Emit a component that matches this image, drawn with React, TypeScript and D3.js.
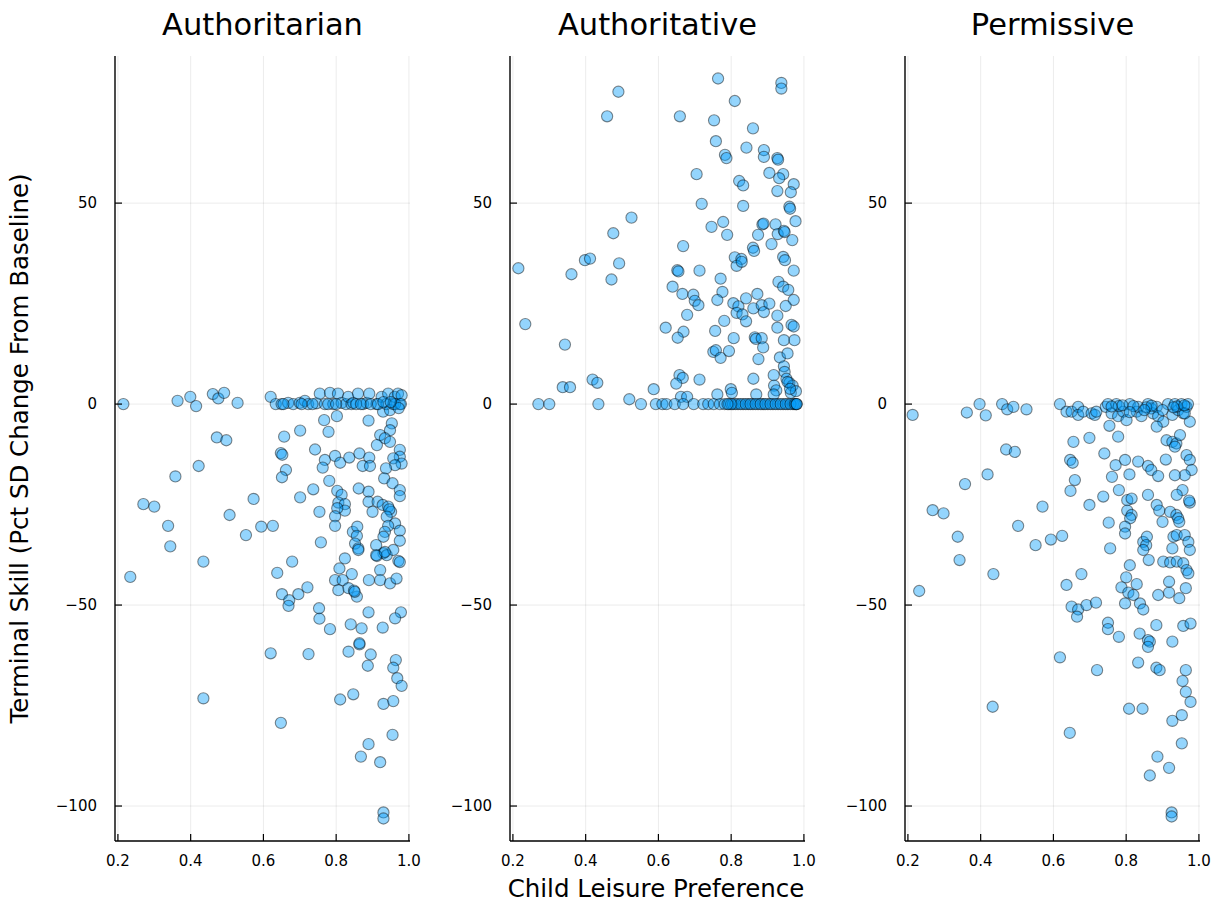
import React from "react";
import * as d3 from "d3";

// [child leisure preference, terminal skill]
const authoritarian: [number, number][] = [
  [0.215, 0], [0.364, 0.8], [0.399, 1.8], [0.415, -0.5], [0.461, 2.5], [0.476, 1.4], [0.492, 2.8], [0.529, 0.3], [0.62, 1.8],
  [0.634, 0], [0.65, 0], [0.668, 0.3], [0.682, 0], [0.7, 0.3], [0.714, 0.8], [0.723, 0], [0.746, 0.2], [0.755, 2.6], [0.769, 0],
  [0.783, 2.8], [0.792, 0], [0.805, 2.6], [0.815, 0.3], [0.827, 0], [0.833, 1.8], [0.842, 0], [0.847, 0.3], [0.86, 2.6], [0.874, 0],
  [0.884, 0.3], [0.891, 2.6], [0.911, 0], [0.925, 1.8], [0.929, -1.9], [0.938, 0], [0.943, 2.6], [0.948, -1.5], [0.957, 0],
  [0.961, 1.8], [0.97, 2.6], [0.975, 0], [0.98, 2.2], [0.655, 0], [0.705, 0], [0.735, 0], [0.778, 0], [0.8, 0], [0.855, 0],
  [0.868, 0], [0.895, 0], [0.915, 0], [0.962, 0], [0.978, 0], [0.972, -1], [0.93, 0.5], [0.95, 0.5],
  [0.472, -8.3], [0.498, -9], [0.422, -15.4], [0.358, -18], [0.27, -24.9], [0.3, -25.5], [0.573, -23.6], [0.507, -27.6],
  [0.338, -30.3], [0.552, -32.6], [0.594, -30.5], [0.626, -30.3], [0.344, -35.4], [0.435, -39.2], [0.234, -43], [0.638, -42],
  [0.679, -39.2], [0.651, -47.3], [0.671, -48.8], [0.669, -50.2], [0.696, -47.3], [0.721, -45.6], [0.753, -50.8],
  [0.657, -8.1], [0.701, -6.6], [0.648, -12.2], [0.652, -12.6], [0.662, -16.4], [0.651, -18.2], [0.742, -11.3], [0.767, -4],
  [0.779, -6.9], [0.802, -3], [0.889, -4.1], [0.769, -13.9], [0.763, -15.8], [0.797, -12.9], [0.811, -14.6], [0.836, -13.3],
  [0.864, -12.3], [0.891, -13.3], [0.873, -15.4], [0.893, -15.4], [0.781, -19.1], [0.737, -21.2], [0.701, -23.2], [0.803, -21.6],
  [0.815, -22.6], [0.862, -21], [0.889, -21.8], [0.806, -24.5], [0.824, -24.9], [0.824, -26.5], [0.803, -25.9], [0.889, -24.3],
  [0.9, -26.8], [0.754, -26.8], [0.797, -27.9], [0.797, -30.3], [0.846, -31.8], [0.858, -30.5], [0.857, -32.8], [0.852, -34.7],
  [0.861, -35.9], [0.758, -34.4], [0.824, -38.4], [0.809, -40.9], [0.843, -42.3], [0.797, -43.8], [0.818, -43.8], [0.806, -46.3],
  [0.834, -45.8], [0.857, -47.9], [0.849, -46.4], [0.89, -43.8], [0.921, -41.3], [0.921, -43.8], [0.948, -44.6], [0.966, -43.4],
  [0.889, -51.8], [0.978, -51.8], [0.754, -53.4],
  [0.953, -4.8], [0.948, -6.5], [0.921, -7.7], [0.934, -8.5], [0.948, -9.4], [0.912, -10.2], [0.975, -11.4], [0.975, -13.1],
  [0.957, -13.5], [0.98, -14.8], [0.962, -15.2], [0.937, -16], [0.932, -18.5], [0.955, -19.7], [0.975, -21.4], [0.975, -22.9],
  [0.914, -24.3], [0.928, -25.1], [0.943, -25.5], [0.951, -26.8], [0.946, -26.2], [0.939, -28], [0.962, -29.7], [0.943, -30.3],
  [0.975, -31.5], [0.975, -34], [0.934, -31.8], [0.93, -33], [0.91, -35.1], [0.93, -37.1], [0.912, -37.8], [0.939, -37.6],
  [0.957, -36.3], [0.971, -39], [0.975, -39.3], [0.861, -36.3], [0.91, -37.6], [0.934, -36.8],
  [0.783, -56], [0.84, -54.8], [0.87, -55.8], [0.928, -55.6], [0.962, -53.3], [0.62, -62], [0.724, -62.2], [0.834, -61.6],
  [0.864, -59.8], [0.864, -59.5], [0.895, -62.3], [0.887, -65.1], [0.964, -63.7], [0.957, -65.6], [0.968, -68.2], [0.98, -70.1],
  [0.435, -73.2], [0.811, -73.5], [0.847, -72.2], [0.93, -74.6], [0.957, -73.9], [0.648, -79.3], [0.955, -82.3], [0.889, -84.6],
  [0.868, -87.7], [0.921, -89.1], [0.93, -101.6], [0.93, -103.1], [0.851, -46.7],
];

const authoritative: [number, number][] = [
  [0.49, 77.7], [0.459, 71.6], [0.659, 71.6], [0.764, 81], [0.81, 75.4], [0.938, 79.9], [0.938, 78.5], [0.753, 70.6],
  [0.86, 68.6], [0.758, 65.4], [0.842, 63.8], [0.89, 63.2], [0.89, 61.5], [0.783, 62], [0.787, 61.2], [0.927, 61.2],
  [0.929, 60.8], [0.905, 57.5], [0.943, 57.2], [0.932, 56.2], [0.972, 54.7], [0.705, 57.2], [0.822, 55.5], [0.833, 54.4],
  [0.927, 53], [0.964, 52.7], [0.719, 49.8], [0.833, 49.3], [0.96, 49.1], [0.962, 48.6], [0.526, 46.4], [0.476, 42.5],
  [0.668, 39.3], [0.746, 44.1], [0.778, 45.3], [0.789, 42.1], [0.874, 42.1], [0.886, 44.7], [0.889, 44.9], [0.922, 44.7],
  [0.928, 42.3], [0.945, 43.1], [0.947, 42.8], [0.977, 45.5], [0.968, 40.8], [0.911, 39.8], [0.86, 38.9], [0.863, 38.1],
  [0.81, 36.5], [0.828, 36.1], [0.943, 36.6], [0.398, 35.8], [0.412, 36.2], [0.492, 35],
  [0.215, 33.8], [0.234, 19.9], [0.361, 32.3], [0.471, 31], [0.343, 14.8], [0.337, 4.2], [0.357, 4.2], [0.419, 6.1],
  [0.432, 5.3], [0.587, 3.7], [0.52, 1.2],
  [0.652, 33.3], [0.655, 33], [0.713, 33.2], [0.639, 29.2], [0.666, 27.4], [0.696, 27.2], [0.7, 25.7], [0.71, 24.6],
  [0.771, 31.2], [0.776, 27.9], [0.762, 25.9], [0.679, 22.2], [0.62, 19], [0.669, 18], [0.653, 16.5], [0.781, 20.7],
  [0.756, 18.2], [0.751, 13], [0.758, 13.4], [0.771, 11.5], [0.794, 13.2], [0.807, 16.4], [0.815, 34.4], [0.829, 35.4],
  [0.948, 35.8], [0.972, 33.2], [0.93, 30.4], [0.943, 29.2], [0.957, 28.4], [0.972, 25.9], [0.806, 25.1], [0.82, 24.3],
  [0.841, 26.3], [0.872, 27.4], [0.815, 22.7], [0.831, 22.3], [0.841, 20.6], [0.861, 23.8], [0.884, 24.6], [0.89, 22.9],
  [0.905, 25], [0.95, 24.4], [0.927, 22], [0.966, 19.7], [0.972, 19.3], [0.927, 19], [0.865, 16.6], [0.868, 16.2],
  [0.884, 16.4], [0.888, 14.1], [0.875, 11.2], [0.945, 15.9], [0.974, 15.9], [0.934, 11.6], [0.955, 12.6], [0.945, 9.4],
  [0.947, 8], [0.917, 7.2], [0.861, 6.3], [0.952, 6.3], [0.96, 5.3], [0.969, 4.6], [0.964, 2.8], [0.978, 3.2], [0.918, 4.6],
  [0.924, 3.4], [0.799, 3.7], [0.713, 6.1], [0.658, 7.2], [0.667, 6.5], [0.649, 5.1], [0.662, 1.8], [0.679, 1.8],
  [0.762, 2.4], [0.802, 2.8], [0.869, 2.4], [0.917, 2.4], [0.955, 5.5], [0.962, 3.8],
  [0.27, 0], [0.3, 0], [0.435, 0], [0.552, 0], [0.593, 0], [0.611, 0], [0.622, 0], [0.645, 0], [0.668, 0], [0.697, 0],
  [0.723, 0], [0.737, 0], [0.752, 0], [0.769, 0], [0.782, 0], [0.794, 0], [0.805, 0], [0.819, 0], [0.833, 0], [0.847, 0],
  [0.86, 0], [0.874, 0], [0.888, 0], [0.901, 0], [0.915, 0], [0.929, 0], [0.943, 0], [0.956, 0], [0.97, 0], [0.978, 0],
  [0.812, 0], [0.826, 0], [0.84, 0], [0.853, 0], [0.867, 0], [0.881, 0], [0.894, 0], [0.908, 0], [0.922, 0], [0.936, 0],
  [0.95, 0], [0.963, 0], [0.975, 0], [0.98, 0], [0.98, 0], [0.8, 0], [0.79, 0],
];

const permissive: [number, number][] = [
  [0.213, -2.7], [0.362, -2.1], [0.397, 0], [0.414, -2.8], [0.459, 0], [0.473, -1.3], [0.49, -0.7], [0.526, -1.3], [0.618, 0],
  [0.636, -1.9], [0.65, -1.9], [0.668, -0.7], [0.668, -2.7], [0.682, -1.9], [0.705, -2.3], [0.714, -2.7], [0.718, -1.9],
  [0.744, -0.7], [0.75, 0], [0.76, -2.3], [0.773, 0], [0.778, -3], [0.792, -1.9], [0.801, -4], [0.81, 0], [0.829, -1.9],
  [0.833, -0.7], [0.842, -3], [0.86, 0], [0.869, -1.1], [0.874, -2.3], [0.884, -0.7], [0.888, -3], [0.902, -4.4],
  [0.884, -5.6], [0.915, 0], [0.927, -2.7], [0.934, 0], [0.943, -1.5], [0.952, 0], [0.957, -2.3], [0.966, -0.7], [0.97, 0],
  [0.975, -4.4], [0.961, -2.3], [0.78, -0.5], [0.79, -0.3], [0.82, -0.5], [0.855, -0.8], [0.87, -0.4], [0.94, -0.6],
  [0.96, -0.3], [0.93, -0.8], [0.76, -0.6], [0.81, -2], [0.85, -1.5], [0.9, -1.5],
  [0.655, -9.4], [0.699, -8.4], [0.646, -13.9], [0.653, -14.6], [0.659, -18.9], [0.647, -21.6], [0.74, -12.3], [0.754, -5.4],
  [0.778, -8.1], [0.771, -15.2], [0.761, -18.1], [0.797, -13.9], [0.809, -17.5], [0.833, -14.3], [0.86, -15.4], [0.869, -16.4],
  [0.888, -17.9], [0.909, -13.8], [0.911, -9], [0.927, -9.4], [0.938, -9.8], [0.948, -7.7], [0.934, -10.6], [0.966, -12.7],
  [0.975, -13.9], [0.98, -16.4], [0.961, -17.7], [0.934, -17.7], [0.955, -21.4], [0.939, -22.6], [0.975, -24.5], [0.973, -24],
  [0.78, -21.4], [0.737, -23], [0.699, -25.1], [0.803, -23.9], [0.815, -23.5], [0.86, -22.6], [0.884, -25.1], [0.891, -26.5],
  [0.803, -26.5], [0.815, -27.6], [0.811, -28.4], [0.752, -29.5], [0.797, -30.5], [0.797, -32.2], [0.9, -29.3], [0.921, -26.8],
  [0.938, -27.6], [0.943, -28.4], [0.946, -29.3], [0.93, -33], [0.939, -32.6], [0.961, -32.6], [0.971, -34.3], [0.975, -36.3],
  [0.847, -34.3], [0.857, -33], [0.855, -35.1], [0.847, -36.3], [0.927, -35.9], [0.756, -35.9], [0.57, -25.5], [0.503, -30.3],
  [0.419, -17.5], [0.357, -19.9], [0.268, -26.4], [0.298, -27.2], [0.337, -33], [0.342, -38.8], [0.435, -42.3], [0.231, -46.5],
  [0.47, -11.3], [0.494, -11.9], [0.551, -35.1], [0.593, -33.7], [0.624, -32.8], [0.636, -45], [0.677, -42.3], [0.65, -50.4],
  [0.668, -51.1], [0.691, -50], [0.717, -49.4], [0.81, -40.1], [0.8, -43.1], [0.829, -44.8], [0.787, -45.6], [0.806, -46.9],
  [0.82, -47.5], [0.838, -49.6], [0.847, -51.1], [0.797, -49.6], [0.888, -47.5], [0.918, -46.9], [0.946, -48.3], [0.964, -45.8],
  [0.862, -38.8], [0.902, -39.2], [0.921, -39.4], [0.939, -39.2], [0.957, -39.6], [0.966, -41.3], [0.971, -42.1], [0.918, -44.2],
  [0.665, -52.9],
  [0.75, -54.4], [0.75, -56], [0.78, -57.9], [0.837, -57.1], [0.86, -58.7], [0.865, -59.1], [0.86, -60.4], [0.883, -55],
  [0.927, -59.1], [0.957, -55.2], [0.977, -54.6], [0.618, -63], [0.72, -66.2], [0.833, -64.3], [0.883, -65.6], [0.892, -66.2],
  [0.964, -66.2], [0.955, -68.9], [0.964, -71.6], [0.977, -74.1], [0.433, -75.3], [0.808, -75.8], [0.845, -75.8], [0.927, -78.8],
  [0.953, -77.4], [0.645, -81.8], [0.953, -84.4], [0.886, -87.7], [0.918, -90.5], [0.865, -92.4], [0.925, -101.6], [0.925, -102.6],
];

const titles = ["Authoritarian", "Authoritative", "Permissive"];
const xTicks = [0.2, 0.4, 0.6, 0.8, 1.0];
const yTicks = [50, 0, -50, -100];

const layout = {
  width: 1220,
  height: 905,
  top: 56,
  bottom: 841,
  panelWidth: 295,
  lefts: [115, 510, 905],
};

const font = "'DejaVu Sans', sans-serif";
const fmtY = (v: number) => (v < 0 ? "\u2212" + Math.abs(v) : String(v));

const Panel = ({ left, title, data }: { left: number; title: string; data: [number, number][] }) => {
  const x = d3.scaleLinear().domain([0.192, 1.003]).range([left, left + layout.panelWidth]);
  const y = d3.scaleLinear().domain([-108.7, 86.6]).range([layout.bottom, layout.top]);
  const right = left + layout.panelWidth;

  return (
    <g>
      {/* grid */}
      {xTicks.map(t => (
        <line key={"gx" + t} x1={x(t)} x2={x(t)} y1={layout.top} y2={layout.bottom} stroke="#000" strokeOpacity={0.08} />
      ))}
      {yTicks.map(t => (
        <line key={"gy" + t} x1={left} x2={right} y1={y(t)} y2={y(t)} stroke="#000" strokeOpacity={0.08} />
      ))}

      {/* points */}
      {data.map((d, i) => (
        <circle
          key={i}
          cx={x(d[0])}
          cy={y(d[1])}
          r={5.6}
          fill="#009afa"
          fillOpacity={0.42}
          stroke="#000"
          strokeOpacity={0.45}
          strokeWidth={1.1}
        />
      ))}

      {/* axes */}
      <line x1={left} x2={left} y1={layout.top} y2={layout.bottom} stroke="#000" strokeWidth={1.4} />
      <line x1={left} x2={right} y1={layout.bottom} y2={layout.bottom} stroke="#000" strokeWidth={1.4} />
      {xTicks.map(t => (
        <g key={"tx" + t}>
          <line x1={x(t)} x2={x(t)} y1={layout.bottom} y2={layout.bottom - 7} stroke="#000" strokeWidth={1.2} />
          <text x={x(t)} y={layout.bottom + 25} textAnchor="middle" fontSize={15} fontFamily={font} fill="#000">
            {t.toFixed(1)}
          </text>
        </g>
      ))}
      {yTicks.map(t => (
        <g key={"ty" + t}>
          <line x1={left} x2={left + 7} y1={y(t)} y2={y(t)} stroke="#000" strokeWidth={1.2} />
          <text x={left - 18} y={y(t)} dy="0.35em" textAnchor="end" fontSize={15} fontFamily={font} fill="#000">
            {fmtY(t)}
          </text>
        </g>
      ))}

      <text x={(left + right) / 2} y={35} textAnchor="middle" fontSize={30.5} fontFamily={font} fill="#000">
        {title}
      </text>
    </g>
  );
};

const App = () => {
  const sets = [authoritarian, authoritative, permissive];
  return (
    <svg
      width={layout.width}
      height={layout.height}
      style={{ position: "absolute", left: 0, top: 0, background: "#fff" }}
    >
      <rect width={layout.width} height={layout.height} fill="#fff" />
      {sets.map((s, i) => (
        <Panel key={i} left={layout.lefts[i]} title={titles[i]} data={s} />
      ))}
      <text
        transform={`translate(28, ${(layout.top + layout.bottom) / 2}) rotate(-90)`}
        textAnchor="middle"
        fontSize={24.5}
        fontFamily={font}
        fill="#000"
      >
        Terminal Skill (Pct SD Change From Baseline)
      </text>
      <text x={656} y={897} textAnchor="middle" fontSize={24.5} fontFamily={font} fill="#000">
        Child Leisure Preference
      </text>
    </svg>
  );
};

export default App;
